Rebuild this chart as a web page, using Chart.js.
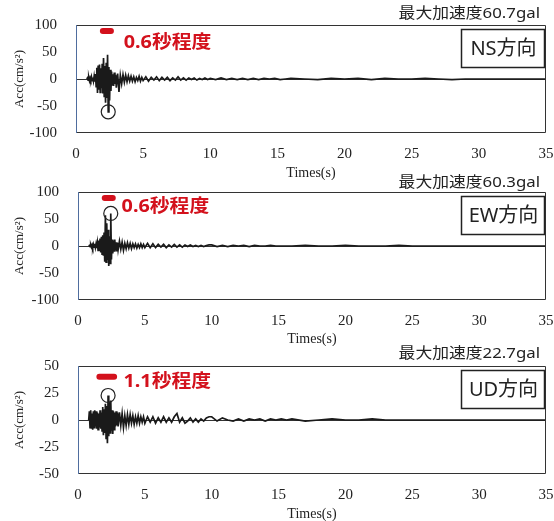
<!DOCTYPE html>
<html>
<head>
<meta charset="utf-8">
<script src="https://cdn.jsdelivr.net/npm/chart.js@4.4.1/dist/chart.umd.min.js"></script>
<style>
  html, body { margin: 0; padding: 0; background: #fff; }
  #wrap { position: relative; width: 554px; height: 521px; overflow: hidden; background: #fff; }
  #wrap canvas { position: absolute; left: 0; }
</style>
</head>
<body>
<div id="wrap">
  <canvas id="nsChart" width="554" height="180" style="top:0px"></canvas>
  <canvas id="ewChart" width="554" height="176" style="top:170px"></canvas>
  <canvas id="udChart" width="554" height="181" style="top:340px"></canvas>
</div>
<script>
// sampling times (s)
const times = [
  0.8, 0.85, 0.9, 0.95, 1.0, 1.05, 1.1, 1.15, 1.2, 1.25, 1.3, 1.35,
  1.4, 1.45, 1.5, 1.55, 1.6, 1.65, 1.7, 1.75, 1.8, 1.85, 1.9, 1.95,
  2.0, 2.05, 2.1, 2.15, 2.2, 2.25, 2.3, 2.35, 2.4, 2.45, 2.5, 2.55,
  2.6, 2.65, 2.7, 2.75, 2.8, 2.85, 2.9, 2.95,
  3.0, 3.1, 3.2, 3.3, 3.4, 3.5, 3.6, 3.7, 3.8, 3.9,
  4.0, 4.1, 4.2, 4.3, 4.4, 4.5, 4.6, 4.7, 4.8, 4.9,
  5.0, 5.2, 5.4, 5.6, 5.8, 6.0, 6.2, 6.4, 6.6, 6.8, 7.0, 7.2, 7.4,
  7.6, 7.8, 8.0, 8.2, 8.4, 8.6, 8.8, 9.0, 9.2, 9.4, 9.6, 9.8,
  10, 10.4, 10.8, 11.2, 11.6, 12, 12.4, 12.8, 13.2, 13.6, 14, 14.4, 14.8, 15.2, 15.6,
  16, 17, 18, 19, 20, 21, 22, 23, 24, 25, 26, 27, 28, 29, 30, 31, 32, 33, 34, 35
];

// NS acceleration (cm/s2)
const nsValues = [
  0, 2, -2, 3, -3, 2, -2, 4, -3, 3, -4, 5,
  -5, 9, -14, 21, -26, 25, -20, 27, -25, 20, -17, 28,
  -27, 39, -32, 24, -44, 30, -35, 45, -60.7, 22, -40, 17,
  -22, 14, -11, 9, -13, 12, -9, 8,
  -16, 10, -24, 7, -9, 8, -6, 7, -5, 6,
  -4, 5, -4, 4, -5, 3, -3, 5, -4, 3,
  -3, 4, -4, 3, -2, 4, -3, 3, -2, 3, -3, 2, -2,
  4, -2, 2, -2, 2, -1, 2, -2, 1, -1, 2, -1,
  1, -1, 2, -1, 1, -1, 1, -1, 1, -1, 1, 0, 1, -1, 0,
  1, 0, -1, 1, 0, 1, -1, 1, 0, 0, 1, 0, -1, 0, 0, 0, 0, 0, 0, 0
];

// EW acceleration (cm/s2)
const ewValues = [
  0, 1, -1, 2, -2, 2, -3, 3, -2, 4, -3, 4,
  -4, 6, -8, 10, -9, 14, -12, 17, -15, 20, -18, 25,
  -29, 57, -30, 42, -26, 30, -37, 18, -32, 60.3, -25, 12,
  -14, 10, -9, 12, -8, 7, -10, 6,
  -7, 9, -6, 7, -8, 5, -5, 6, -4, 5,
  -5, 4, -3, 4, -4, 3, -3, 4, -3, 3,
  -3, 5, -3, 4, -3, 3, -2, 3, -3, 2, -2, 3, -2,
  2, -2, 2, -1, 2, -1, 1, -1, 1, -1, 1, 2,
  2, -1, 1, -1, 1, 0, 1, -1, 1, 0, 0, 1, 0, 0, 0,
  0, 1, 0, 0, 1, 0, 0, 0, 1, 0, 0, 0, 0, 0, 0, 0, 0, 0, 0, 0
];

// UD acceleration (cm/s2)
const udValues = [
  0, 8, -7, 9, -8, 6, -9, 8, -7, 9, -6, 8,
  -8, 7, -9, 6, -7, 9, -8, 7, -10, 12, -14, 10,
  -12, 15, -17, 13, -21.6, 22.7, -15, 17, -12, 18, -10, 9,
  -13, 8, -9, 7, -6, 8, -5, 7,
  -6, 7, -5, 6, -7, 4, -5, 5, -4, 5,
  -3, 4, -4, 3, -3, 4, -3, 3, -2, 3,
  -3, 3, -2, 3, -3, 2, -2, 3, -2, 2, -2, 3, 6,
  -2, 2, -3, -1, 2, -2, 1, -2, 1, -1, 2, 3,
  3, -1, 2, 0, -1, 1, -1, 1, 0, 1, -1, 1, 0, 1, 0,
  1, -1, 0, 1, 0, 0, 1, 0, 0, 0, 0, 0, 0, 0, 0, 0, 0, 0, 0, 0
];

const xTicks = [0, 5, 10, 15, 20, 25, 30, 35];
const horizYTicks = [-100, -50, 0, 50, 100];
const udYTicks = [-50, -25, 0, 25, 50];

const peakLabels = ['最大加速度60.7gal', '最大加速度60.3gal', '最大加速度22.7gal'];
const directionLabels = ['NS方向', 'EW方向', 'UD方向'];
const durationLabels = ['0.6秒程度', '0.6秒程度', '1.1秒程度'];
const durationSpans = [[2.0, 2.6], [2.0, 2.6], [1.6, 2.7]];

const RED = '#d3111c';
const SANS = '"Noto Sans", "Noto Sans CJK JP"';

// text drawn a little wider than the font, like the scanned figure
function wideText(ctx, text, x, y, stretch) {
  ctx.save();
  ctx.translate(x, y);
  ctx.scale(stretch, 1);
  ctx.fillText(text, 0, 0);
  ctx.restore();
}

const decorPlugin = {
  id: 'decor',
  afterDraw(chart, args, opts) {
    const { ctx, chartArea: a, scales: { x, y } } = chart;
    ctx.save();

    // plot frame
    ctx.lineWidth = 1;
    ctx.strokeStyle = '#333';
    ctx.beginPath();
    ctx.moveTo(a.left, a.top + 0.5);
    ctx.lineTo(a.right - 0.5, a.top + 0.5);
    ctx.lineTo(a.right - 0.5, a.bottom - 0.5);
    ctx.lineTo(a.left, a.bottom - 0.5);
    ctx.stroke();
    ctx.strokeStyle = '#4f6d9e';
    ctx.beginPath();
    ctx.moveTo(a.left + 0.5, a.top);
    ctx.lineTo(a.left + 0.5, a.bottom);
    ctx.stroke();

    // peak acceleration header
    ctx.fillStyle = '#222';
    ctx.font = '15px ' + SANS;
    ctx.textAlign = 'right';
    ctx.textBaseline = 'middle';
    wideText(ctx, opts.peakLabel, a.right - 6, a.top - opts.headerGap, 1.12);

    // direction box
    const bw = 83, bh = 38;
    const bx = a.right - bw - 2, by = a.top + 4;
    ctx.lineWidth = 1.5;
    ctx.strokeStyle = '#222';
    ctx.strokeRect(bx + 0.5, by + 0.5, bw, bh);
    ctx.font = '20px ' + SANS;
    ctx.textAlign = 'center';
    ctx.fillText(opts.direction, bx + bw / 2 + 1, by + bh / 2 + 1);

    // duration bar
    const by0 = y.getPixelForValue(opts.barY);
    ctx.strokeStyle = RED;
    ctx.lineWidth = 6;
    ctx.lineCap = 'round';
    ctx.beginPath();
    ctx.moveTo(x.getPixelForValue(opts.span[0]), by0);
    ctx.lineTo(x.getPixelForValue(opts.span[1]), by0);
    ctx.stroke();

    // duration label
    ctx.fillStyle = RED;
    ctx.font = 'bold 18px ' + SANS;
    ctx.textAlign = 'left';
    wideText(ctx, opts.duration, x.getPixelForValue(opts.labelAt[0]), y.getPixelForValue(opts.labelAt[1]), 1.1);

    // circle on the peak
    const data = chart.data.datasets[0].data;
    let peak = data[0];
    data.forEach(p => { if (Math.abs(p.y) > Math.abs(peak.y)) peak = p; });
    ctx.strokeStyle = '#222';
    ctx.lineWidth = 1.2;
    ctx.beginPath();
    ctx.arc(x.getPixelForValue(peak.x), y.getPixelForValue(peak.y), 7, 0, Math.PI * 2);
    ctx.stroke();

    ctx.restore();
  }
};

function makeChart(id, values, yTicks, panel) {
  const ctx = document.getElementById(id).getContext('2d');
  const yMax = yTicks[yTicks.length - 1];
  return new Chart(ctx, {
    type: 'line',
    data: {
      datasets: [{
        data: times.map((t, i) => ({ x: t, y: values[i] })),
        borderColor: '#1a1a1a',
        borderWidth: 1.7,
        pointRadius: 0,
        tension: 0,
        fill: false
      }]
    },
    options: {
      responsive: false,
      animation: false,
      events: [],
      layout: { padding: { top: panel.top, right: 8, left: 0, bottom: 0 } },
      plugins: {
        legend: { display: false },
        tooltip: { enabled: false },
        decor: panel.decor
      },
      scales: {
        x: {
          type: 'linear',
          min: 0,
          max: 35,
          afterBuildTicks: s => { s.ticks = xTicks.map(v => ({ value: v })); },
          afterFit: s => { s.height = panel.xHeight; s.paddingLeft = 0; s.paddingRight = 0; },
          grid: { display: false, drawTicks: false },
          border: { display: false },
          ticks: {
            padding: 12,
            color: '#222',
            font: { family: '"Liberation Serif"', size: 15 }
          },
          title: {
            display: true,
            text: 'Times(s)',
            color: '#222',
            padding: { top: 0, bottom: 0 },
            font: { family: '"Liberation Serif"', size: 14, lineHeight: 1 }
          }
        },
        y: {
          min: -yMax,
          max: yMax,
          afterBuildTicks: s => { s.ticks = yTicks.map(v => ({ value: v })); },
          afterFit: s => { s.width = panel.yWidth; s.paddingTop = 0; s.paddingBottom = 0; },
          grid: {
            drawTicks: false,
            color: c => (c.tick && c.tick.value === 0 ? '#333' : 'rgba(0,0,0,0)'),
            lineWidth: 1
          },
          border: { display: false },
          ticks: {
            padding: 19,
            autoSkip: false,
            color: '#222',
            font: { family: '"Liberation Serif"', size: 15 }
          },
          title: {
            display: true,
            text: 'Acc(cm/s²)',
            color: '#222',
            padding: { top: 12, bottom: 0 },
            font: { family: '"Liberation Serif"', size: 13 }
          }
        }
      }
    },
    plugins: [decorPlugin]
  });
}

makeChart('nsChart', nsValues, horizYTicks, {
  top: 25, xHeight: 47, yWidth: 76,
  decor: {
    peakLabel: peakLabels[0], direction: directionLabels[0], duration: durationLabels[0],
    span: durationSpans[0], barY: 89, labelAt: [3.55, 67], headerGap: 11
  }
});

makeChart('ewChart', ewValues, horizYTicks, {
  top: 22, xHeight: 46, yWidth: 78,
  decor: {
    peakLabel: peakLabels[1], direction: directionLabels[1], duration: durationLabels[1],
    span: durationSpans[1], barY: 89, labelAt: [3.26, 72], headerGap: 9
  }
});

makeChart('udChart', udValues, udYTicks, {
  top: 26, xHeight: 47, yWidth: 78,
  decor: {
    peakLabel: peakLabels[2], direction: directionLabels[2], duration: durationLabels[2],
    span: durationSpans[2], barY: 40, labelAt: [3.4, 35], headerGap: 12
  }
});
</script>
</body>
</html>
